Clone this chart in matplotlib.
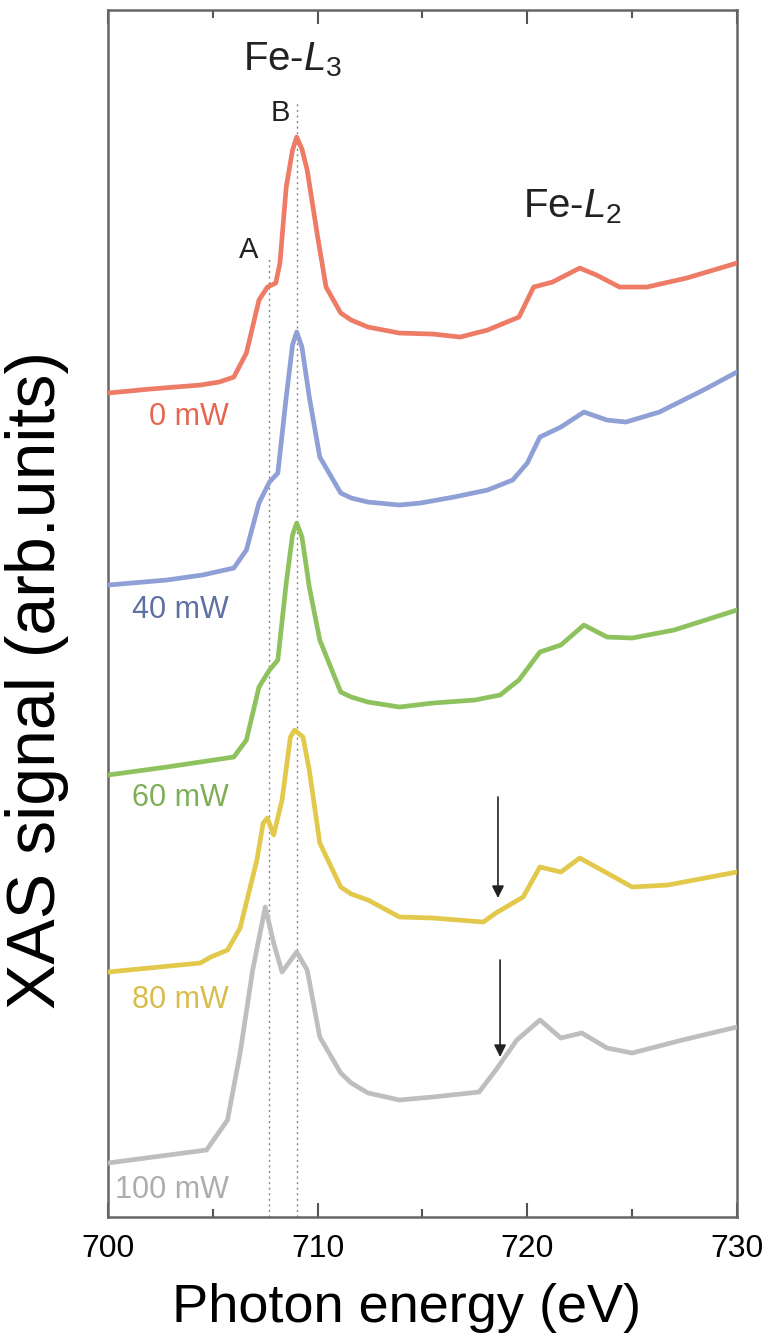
import numpy as np
import matplotlib
matplotlib.use('Agg')
import matplotlib.pyplot as plt

plt.rcParams['font.family'] = ['Liberation Sans', 'DejaVu Sans']
plt.rcParams['mathtext.fontset'] = 'custom'
plt.rcParams['mathtext.rm'] = 'Liberation Sans'
plt.rcParams['mathtext.it'] = 'Liberation Sans:italic'

# XAS spectra (arb. units, vertically offset)
e_0 = [700.0, 702.0, 704.4, 705.3, 706.0, 706.6, 707.2, 707.6, 708.0, 708.2, 708.5, 708.8, 709.0,
       709.25, 709.5, 710.0, 710.4, 711.1, 711.6, 712.4, 713.9, 715.5, 716.8, 718.1, 719.6, 720.3,
       721.2, 722.5, 723.3, 724.4, 725.7, 727.6, 730.0]
s_0 = [8.24, 8.28, 8.32, 8.35, 8.40, 8.64, 9.17, 9.30, 9.34, 9.54, 10.30, 10.67, 10.80,
       10.68, 10.47, 9.80, 9.30, 9.04, 8.97, 8.90, 8.84, 8.83, 8.80, 8.87, 9.00, 9.30,
       9.35, 9.49, 9.42, 9.30, 9.30, 9.39, 9.54]

e_40 = [700.0, 702.8, 704.5, 706.0, 706.6, 707.2, 707.7, 708.1, 708.5, 708.8, 709.0, 709.25, 709.6,
        710.1, 711.1, 711.6, 712.4, 713.9, 714.9, 716.5, 718.1, 719.3, 720.0, 720.6, 721.6, 722.7,
        723.8, 724.7, 726.3, 728.4, 730.0]
s_40 = [6.32, 6.37, 6.42, 6.49, 6.67, 7.14, 7.35, 7.44, 8.20, 8.72, 8.85, 8.70, 8.20,
        7.60, 7.24, 7.19, 7.15, 7.12, 7.14, 7.20, 7.27, 7.37, 7.54, 7.80, 7.90, 8.05,
        7.97, 7.95, 8.05, 8.27, 8.45]

e_60 = [700.0, 702.8, 706.0, 706.6, 707.2, 707.7, 708.1, 708.5, 708.8, 709.0, 709.25, 709.6, 710.1,
        711.1, 711.6, 712.4, 713.9, 715.5, 717.5, 718.7, 719.6, 720.6, 721.6, 722.7, 723.8, 725.0,
        727.0, 730.0]
s_60 = [4.42, 4.50, 4.60, 4.77, 5.30, 5.47, 5.57, 6.34, 6.82, 6.94, 6.80, 6.30, 5.77,
        5.25, 5.20, 5.15, 5.10, 5.14, 5.17, 5.22, 5.37, 5.65, 5.72, 5.92, 5.80, 5.79,
        5.87, 6.07]

e_80 = [700.0, 704.4, 704.9, 705.7, 706.3, 707.1, 707.4, 707.6, 707.9, 708.3, 708.7, 708.9, 709.3,
        709.6, 710.1, 711.1, 711.6, 712.4, 713.9, 715.5, 717.9, 718.5, 719.8, 720.6, 721.6, 722.5,
        723.8, 725.0, 726.7, 730.0]
s_80 = [2.45, 2.54, 2.60, 2.67, 2.89, 3.57, 3.94, 3.99, 3.82, 4.17, 4.80, 4.87, 4.80,
        4.47, 3.74, 3.30, 3.23, 3.17, 3.00, 2.99, 2.95, 3.04, 3.20, 3.50, 3.45, 3.59,
        3.44, 3.30, 3.32, 3.45]

e_100 = [700.0, 704.7, 705.7, 706.3, 706.9, 707.5, 707.9, 708.3, 709.0, 709.5, 710.1, 711.1, 711.6,
         712.4, 713.9, 715.5, 717.7, 718.5, 719.5, 720.6, 721.6, 722.6, 723.8, 725.0, 727.4, 730.0]
s_100 = [0.54, 0.67, 0.97, 1.64, 2.47, 3.10, 2.74, 2.45, 2.65, 2.47, 1.80, 1.44, 1.34,
         1.24, 1.17, 1.20, 1.25, 1.47, 1.77, 1.97, 1.79, 1.84, 1.69, 1.64, 1.77, 1.90]

labels = ['0 mW', '40 mW', '60 mW', '80 mW', '100 mW']
label_y = [8.00, 6.07, 4.19, 2.17, 0.27]
line_colors = ['#EE7B66', '#8FA0D6', '#8EC25E', '#E2C94C', '#BEBEBE']
text_colors = ['#E8654F', '#5E70A3', '#7FAE57', '#D8BD4C', '#ADADAD']

peak_A = 707.7
peak_B = 709.0
arrow_x = [718.6, 718.7]
arrow_top = [4.20, 2.57]
arrow_tip = [3.19, 1.60]

fig = plt.figure(figsize=(7.7, 13.44), dpi=100)
ax = fig.add_axes([0.1403, 0.0945, 0.8168, 0.898])

series = [(e_0, s_0), (e_40, s_40), (e_60, s_60), (e_80, s_80), (e_100, s_100)]
for (e, s), c in zip(series, line_colors):
    ax.plot(e, s, color=c, lw=3.4, solid_joinstyle='round', solid_capstyle='round', zorder=3)

for (lab, ly, tc) in zip(labels, label_y, text_colors):
    ax.text(705.75, ly, lab, color=tc, fontsize=22, ha='right', va='center')

ax.plot([peak_A, peak_A], [0, 9.6], ls=(0, (1.5, 2.5)), color='#888888', lw=1, zorder=2)
ax.plot([peak_B, peak_B], [0, 11.14], ls=(0, (1.5, 2.5)), color='#888888', lw=1, zorder=2)

ax.text(706.72, 9.67, 'A', fontsize=21, ha='center', va='center', color='#222222')
ax.text(708.2, 11.04, 'B', fontsize=21, ha='center', va='center', color='#222222')
ax.text(708.82, 11.57, r'Fe-$L_3$', fontsize=29, ha='center', va='center', color='#222222')
ax.text(722.17, 10.10, r'Fe-$L_2$', fontsize=29, ha='center', va='center', color='#222222')

for x, y0, y1 in zip(arrow_x, arrow_top, arrow_tip):
    ax.annotate('', xy=(x, y1), xytext=(x, y0),
                arrowprops=dict(arrowstyle='-|>', color='#222222', lw=1.2,
                                mutation_scale=18, shrinkA=0, shrinkB=0))

ax.set_xlim(700, 730)
ax.set_ylim(0, 12.07)
ax.set_xticks([700, 710, 720, 730])
ax.set_xticks([705, 715, 725], minor=True)
ax.set_yticks([])
ax.tick_params(axis='x', which='both', direction='in', top=True, labelsize=23,
               color='#555555', pad=12)
ax.tick_params(axis='x', which='major', length=10, width=1.5)
ax.tick_params(axis='x', which='minor', length=6, width=1.5)
for sp in ax.spines.values():
    sp.set_color('#666666')
    sp.set_linewidth(1.8)

ax.set_xlabel('Photon energy (eV)', fontsize=39)
ax.xaxis.set_label_coords(0.474, -0.055)
ax.set_ylabel('XAS signal (arb.units)', fontsize=49)
ax.yaxis.set_label_coords(-0.062, 0.445)

fig.savefig('out.png', dpi=100)
